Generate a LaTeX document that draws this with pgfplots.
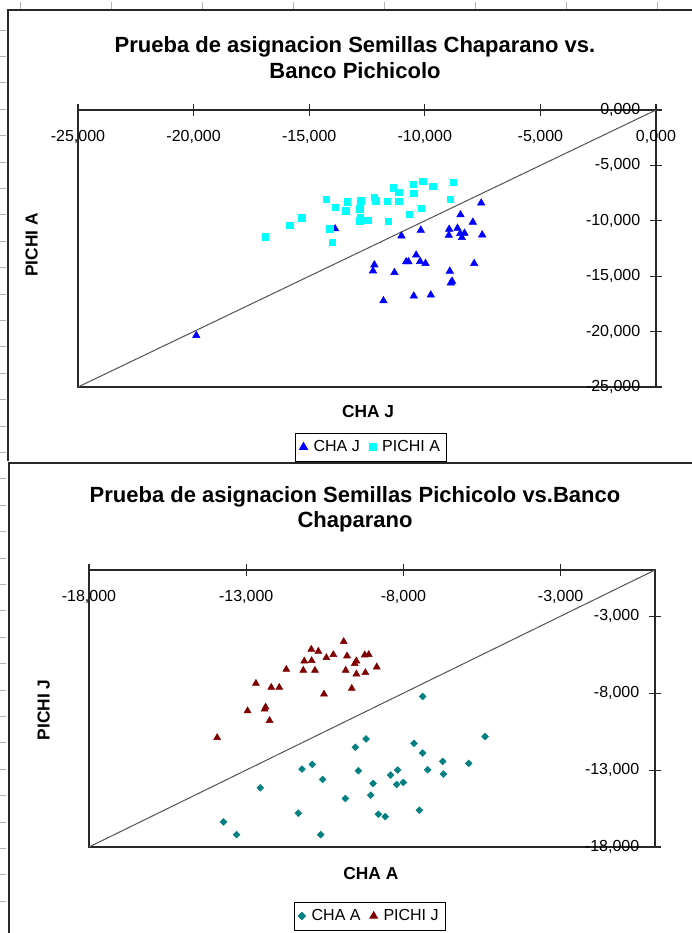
\documentclass[border=0pt]{standalone}
\usepackage{fontspec}
\setmainfont{Liberation Sans}
\usepackage{pgfplots}
\pgfplotsset{compat=1.18}
\definecolor{chaj}{RGB}{0,0,255}
\definecolor{pichia}{RGB}{0,255,255}
\definecolor{chaa}{RGB}{0,128,128}
\definecolor{pichij}{RGB}{128,0,0}
\definecolor{diag}{RGB}{90,90,90}
\definecolor{axl}{RGB}{40,40,40}

\pgfplotsset{
  excelstyle/.style={
    scale only axis,
    scaled ticks=false,
    axis line style={axl, line width=0.9pt},
    tick style={axl, line width=0.8pt},
    tick align=center,
    major tick length=8.5pt,
    xtick pos=upper, ytick pos=right,
    xticklabel pos=upper, yticklabel pos=right,
    ticklabel style={font=\fontsize{12}{14}\selectfont, text=black},
    xticklabel style={anchor=north, yshift=-16pt},
    yticklabel style={anchor=east, xshift=-12.5pt},
    xlabel style={font=\bfseries\fontsize{13}{15}\selectfont, anchor=center},
    ylabel style={font=\bfseries\fontsize{13}{15}\selectfont, anchor=center},
    legend style={draw=black, line width=0.6pt, font=\fontsize{12}{14}\selectfont,
      anchor=center, inner xsep=3pt, inner ysep=3.5pt,
      /tikz/every odd column/.append style={column sep=2.5pt},
      /tikz/every even column/.append style={column sep=5pt}},
    legend image post style={scale=1.1},
    legend columns=2,
    clip=false,
  }
}

\begin{document}
\begin{tikzpicture}
\begin{scope}[x=0.75pt, y=0.75pt]
\path[use as bounding box] (0,0) rectangle (692,-933);
% sheet grid remnants
\foreach \gx in {20,111,202,293,384,475,566,657} {\draw[black!30, line width=0.6pt] (\gx,-2) -- (\gx,-9);}
\foreach \k in {0,...,33} {\draw[black!30, line width=0.6pt] (0,{-30-26.4*\k}) -- (6,{-30-26.4*\k});}
% chart frames
\draw[axl, line width=0.9pt] (8,-461) -- (8,-10) -- (692,-10);
\draw[axl, line width=0.9pt] (9,-933) -- (9,-463) -- (692,-463);
% titles
\node[font=\bfseries\fontsize{16.5}{19.5}\selectfont, align=center] at (355,-58)
  {Prueba de asignacion Semillas Chaparano vs.\\Banco Pichicolo};
\node[font=\bfseries\fontsize{16.5}{19}\selectfont, align=center] at (355,-509)
  {Prueba de asignacion Semillas Pichicolo vs.Banco\\Chaparano};
\end{scope}

% ---------- chart 1
\begin{axis}[excelstyle,
  at={(58.5pt,-290.25pt)}, anchor=south west,
  width=433.5pt, height=207.75pt,
  xmin=-25000, xmax=0, ymin=-25000, ymax=0,
  xtick={-25000,-20000,-15000,-10000,-5000,0},
  xticklabels={{-25,000},{-20,000},{-15,000},{-10,000},{-5,000},{0,000}},
  ytick={-25000,-20000,-15000,-10000,-5000,0},
  yticklabels={{-25,000},{-20,000},{-15,000},{-10,000},{-5,000},{0,000}},
  xlabel={CHA J}, ylabel={PICHI A},
  xlabel style={at={(axis description cs:0.502,-0.09)}},
  ylabel style={at={(axis description cs:-0.08,0.513)}},
  legend style={at={(axis description cs:0.507,-0.217)}},
]
\addplot[diag, line width=0.8pt, no marks, forget plot] coordinates {(-25000,-25000) (0,0)};
\addplot[only marks, mark=triangle*, color=chaj, mark size=3.2pt] coordinates {
(-13879,-10723) (-12181,-13975) (-12241,-14517) (-19884,-20352) (-11010,-11364)
(-10173,-10848) (-8947,-10758) (-8961,-11303) (-8586,-10667) (-8470,-11152)
(-8398,-11515) (-8283,-11121) (-8456,-9455) (-7922,-10121) (-7561,-8394)
(-7518,-11273) (-10375,-13091) (-10808,-13697) (-10707,-13697) (-10202,-13667)
(-9971,-13848) (-11313,-14667) (-8918,-14545) (-8817,-15455) (-8874,-15606)
(-7864,-13848) (-11789,-17212) (-10476,-16788) (-9740,-16697)
};
\addlegendentry{CHA J}
\addplot[only marks, mark=square*, color=pichia, mark size=2.4pt] coordinates {
(-14250,-8067) (-13862,-8790) (-13362,-8283) (-13418,-9097) (-12772,-8193)
(-12815,-8916) (-12181,-7886) (-12125,-8193) (-12784,-9693) (-12815,-10000)
(-12470,-9937) (-15328,-9729) (-15832,-10416) (-14108,-10723) (-16897,-11445)
(-13991,-11951) (-11616,-8242) (-11126,-8242) (-11573,-10061) (-10678,-9394)
(-10144,-8848) (-11126,-7424) (-11371,-7030) (-10491,-6697) (-10087,-6455)
(-9654,-6909) (-10476,-7515) (-8903,-8061) (-8759,-6515)
};
\addlegendentry{PICHI A}
\end{axis}

% ---------- chart 2
\begin{axis}[excelstyle,
  at={(66.75pt,-635.25pt)}, anchor=south west,
  width=424.5pt, height=207.75pt,
  xmin=-18000, xmax=0, ymin=-18000, ymax=0,
  xtick={-18000,-13000,-8000,-3000},
  xticklabels={{-18,000},{-13,000},{-8,000},{-3,000}},
  ytick={-18000,-13000,-8000,-3000},
  yticklabels={{-18,000},{-13,000},{-8,000},{-3,000}},
  xlabel={CHA A}, ylabel={PICHI J},
  xlabel style={at={(axis description cs:0.498,-0.094)}},
  ylabel style={at={(axis description cs:-0.08,0.495)}},
  legend style={at={(axis description cs:0.496,-0.249)}},
]
\addplot[diag, line width=0.8pt, no marks, forget plot] coordinates {(-18000,-18000) (0,0)};
\addplot[only marks, mark=square*, mark options={rotate=45}, color=chaa, mark size=1.8pt] coordinates {
(-9189,-10978) (-9529,-11522) (-10898,-12630) (-11227,-12935) (-9433,-13043)
(-10569,-13609) (-8966,-13870) (-12554,-14152) (-9847,-14848) (-9040,-14630)
(-11344,-15804) (-13722,-16370) (-13308,-17196) (-10633,-17196) (-7389,-8217)
(-7665,-11261) (-7389,-11891) (-5403,-10826) (-6752,-12435) (-5924,-12565)
(-7229,-12978) (-8185,-13000) (-8408,-13326) (-6730,-13261) (-8004,-13804)
(-8217,-13935) (-7495,-15609) (-8800,-15870) (-8577,-16022)
};
\addlegendentry{CHA A}
\addplot[only marks, mark=triangle*, color=pichij, mark size=3.0pt] coordinates {
(-9900,-4652) (-10930,-5152) (-10707,-5283) (-10229,-5500) (-10452,-5696)
(-9794,-5587) (-11153,-5913) (-10919,-5891) (-9497,-5913) (-9550,-6087)
(-9231,-5522) (-9104,-5500) (-8849,-6304) (-11726,-6457) (-11185,-6522)
(-10813,-6522) (-9837,-6522) (-9497,-6761) (-9210,-6674) (-12692,-7370)
(-12204,-7630) (-11949,-7630) (-10527,-8065) (-9645,-7696) (-12958,-9152)
(-12416,-9043) (-12384,-8913) (-12257,-9783) (-13924,-10891)
};
\addlegendentry{PICHI J}
\end{axis}
\end{tikzpicture}
\end{document}
